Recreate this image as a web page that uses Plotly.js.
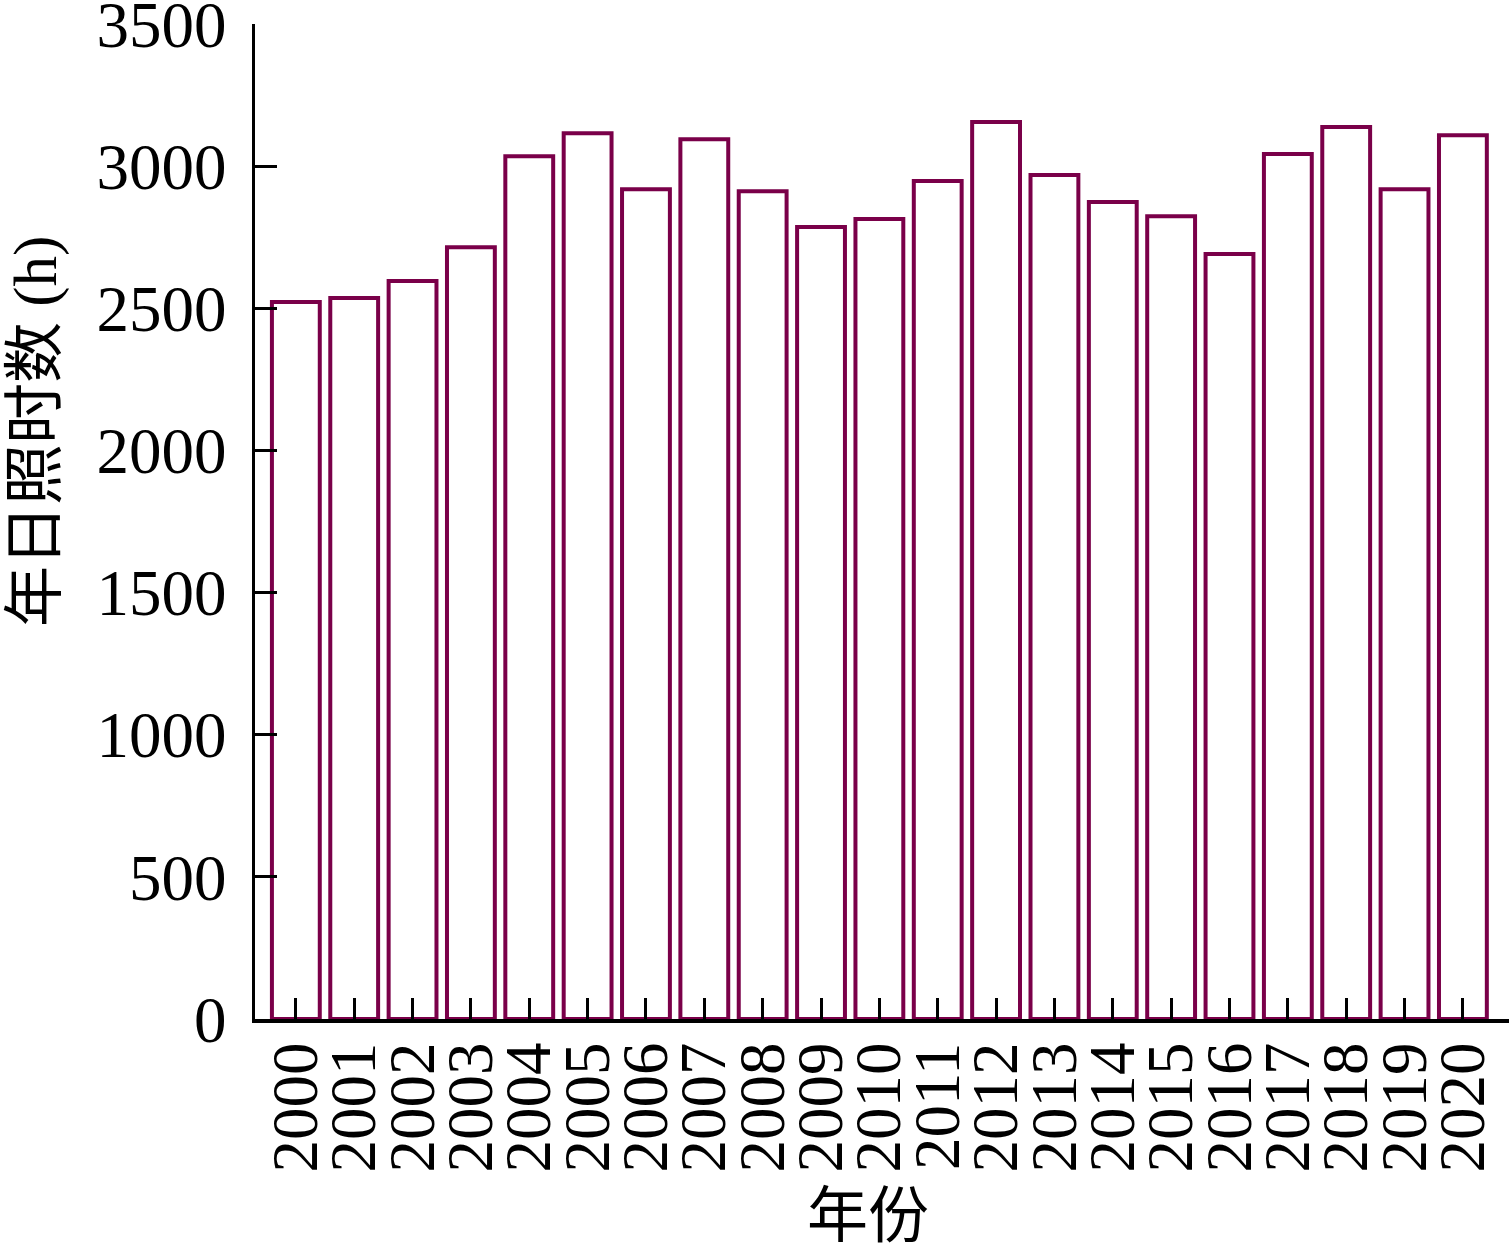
<!DOCTYPE html>
<html>
<head>
<meta charset="utf-8">
<script src="https://cdn.plot.ly/plotly-3.0.1.min.js"></script>
<style>html,body{margin:0;padding:0;background:#fff;}#chart{width:1509px;height:1251px;}</style>
</head>
<body>
<div id="chart"></div>
<script>
var years = ['2000','2001','2002','2003','2004','2005','2006','2007','2008','2009','2010','2011','2012','2013','2014','2015','2016','2017','2018','2019','2020'];
var sunshineHours = [2522,2536,2596,2715,3035,3116,2919,3095,2912,2786,2814,2948,3155,2969,2874,2824,2691,3043,3138,2919,3109];
var yTicks = [0,500,1000,1500,2000,2500,3000,3500];

var latin = 'Liberation Serif, Times New Roman, Noto Sans CJK SC, serif';
var cjk = 'Liberation Serif, Noto Sans CJK SC, serif';

var trace = {
  type: 'bar',
  x: years,
  y: sunshineHours,
  width: 0.82,
  marker: {color: '#ffffff', line: {color: '#7a0049', width: 4}},
  hoverinfo: 'x+y'
};

var layout = {
  width: 1509,
  height: 1251,
  margin: {l: 255, r: 0, t: 24, b: 232},
  paper_bgcolor: '#ffffff',
  plot_bgcolor: '#ffffff',
  showlegend: false,
  font: {family: latin, color: '#000000', size: 65},
  xaxis: {
    type: 'category',
    range: [-0.7, 20.79],
    tickmode: 'array',
    tickvals: years,
    ticktext: years,
    showline: true,
    linecolor: '#000000',
    linewidth: 3.5,
    showgrid: false,
    zeroline: false,
    ticks: 'inside',
    ticklen: 21,
    tickwidth: 3,
    tickcolor: '#000000',
    tickangle: -90,
    ticklabelstandoff: -6,
    ticklabeloverflow: 'allow',
    tickfont: {family: latin, size: 65, color: '#000000'},
    fixedrange: true
  },
  yaxis: {
    range: [0, 3500],
    tickmode: 'array',
    tickvals: yTicks,
    ticktext: yTicks.map(String),
    showline: true,
    linecolor: '#000000',
    linewidth: 3.5,
    showgrid: false,
    zeroline: false,
    ticks: 'inside',
    ticklen: 22,
    tickwidth: 3,
    tickcolor: '#000000',
    ticklabelstandoff: 12,
    ticklabeloverflow: 'allow',
    tickfont: {family: latin, size: 65, color: '#000000'},
    fixedrange: true
  },
  annotations: [
    {
      text: '年份', xref: 'paper', yref: 'paper', x: 0.489, y: 0,
      xanchor: 'center', yanchor: 'middle', yshift: -197, showarrow: false,
      font: {family: cjk, size: 61, color: '#000000'}
    },
    {
      text: '年日照时数 (h)', xref: 'paper', yref: 'paper', x: 0, y: 0.59,
      xanchor: 'center', yanchor: 'middle', xshift: -219, textangle: -90, showarrow: false,
      font: {family: cjk, size: 61, color: '#000000'}
    }
  ]
};

Plotly.newPlot('chart', [trace], layout, {displayModeBar: false, staticPlot: true});
</script>
</body>
</html>
